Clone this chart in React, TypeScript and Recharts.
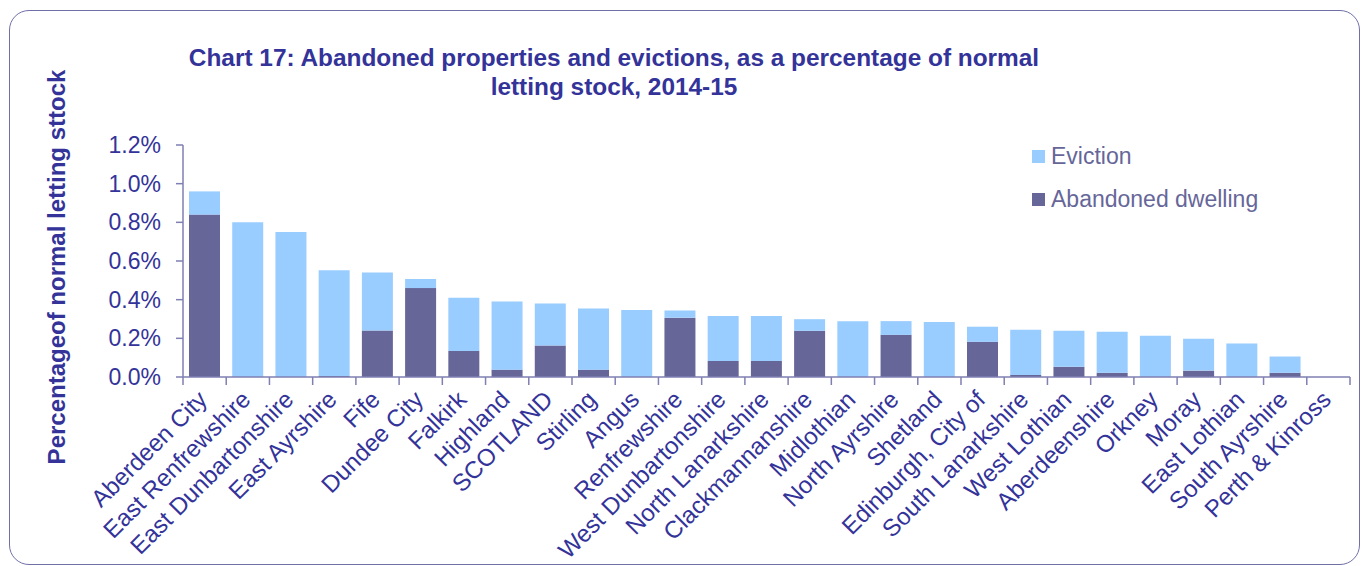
import React from 'react';
import { BarChart, Bar, XAxis, YAxis } from 'recharts';

const categories = [
  'Aberdeen City', 'East Renfrewshire', 'East Dunbartonshire', 'East Ayrshire', 'Fife',
  'Dundee City', 'Falkirk', 'Highland', 'SCOTLAND', 'Stirling', 'Angus', 'Renfrewshire',
  'West Dunbartonshire', 'North Lanarkshire', 'Clackmannanshire', 'Midlothian',
  'North Ayrshire', 'Shetland', 'Edinburgh, City of', 'South Lanarkshire', 'West Lothian',
  'Aberdeenshire', 'Orkney', 'Moray', 'East Lothian', 'South Ayrshire', 'Perth & Kinross',
];

const abandoned = [
  0.84, 0, 0, 0.005, 0.24, 0.46, 0.135, 0.038, 0.163, 0.038, 0, 0.307, 0.083, 0.083,
  0.239, 0, 0.218, 0, 0.182, 0.01, 0.053, 0.022, 0, 0.033, 0, 0.022, 0,
];

const eviction = [
  0.12, 0.80, 0.75, 0.547, 0.30, 0.047, 0.275, 0.352, 0.217, 0.316, 0.346, 0.037, 0.232,
  0.232, 0.06, 0.289, 0.071, 0.284, 0.078, 0.234, 0.186, 0.212, 0.213, 0.165, 0.173, 0.084, 0,
];

const yTicks = [0, 0.2, 0.4, 0.6, 0.8, 1.0, 1.2];

const titleLines = [
  'Chart 17: Abandoned properties and evictions, as a percentage of normal',
  'letting stock, 2014-15',
];
const yLabel = 'Percentageof normal letting sttock';

const seriesNames = { abandoned: 'Abandoned dwelling', eviction: 'Eviction' };

const data = categories.map((name, i) => ({
  name,
  abandoned: abandoned[i],
  eviction: eviction[i],
}));

const FONT = '"Liberation Sans", Arial, sans-serif';
const TEXT = '#333399';
const AXIS = '#7f7fb3';
const EVICTION = '#99CCFF';
const ABANDONED = '#666699';

const legendItems = [
  { name: seriesNames.eviction, color: EVICTION },
  { name: seriesNames.abandoned, color: ABANDONED },
];

const W = 1364;
const H = 566;
const PLOT_LEFT = 183;
const PLOT_RIGHT = 1350;
const STEP = (PLOT_RIGHT - PLOT_LEFT) / categories.length;

const XTick = (props: any) => {
  const { x, y, payload, index } = props;
  const last = index === categories.length - 1;
  const ax = x + 4;
  const ay = y + 24;
  return (
    <g>
      <line x1={x - STEP / 2} x2={x - STEP / 2} y1={y} y2={y + 8} stroke={AXIS} strokeWidth={1.5} />
      {last && (
        <line x1={x + STEP / 2} x2={x + STEP / 2} y1={y} y2={y + 8} stroke={AXIS} strokeWidth={1.5} />
      )}
      <text
        x={ax}
        y={ay}
        transform={`rotate(-45 ${ax} ${ay})`}
        textAnchor="end"
        fill={TEXT}
        fontSize={24}
        fontFamily={FONT}
      >
        {payload.value}
      </text>
    </g>
  );
};

export default function App() {
  return (
    <div style={{ position: 'absolute', left: 0, top: 0, width: W, height: H, background: '#fff' }}>
      <div
        style={{
          position: 'absolute',
          left: 9,
          top: 10,
          width: 1351,
          height: 555,
          border: '1.5px solid #7070a8',
          borderRadius: 20,
          boxSizing: 'border-box',
        }}
      />
      <div
        style={{
          position: 'absolute',
          left: 0,
          width: 1228,
          top: 43,
          textAlign: 'center',
          fontFamily: FONT,
          fontWeight: 'bold',
          fontSize: 24.4,
          lineHeight: '29px',
          color: TEXT,
        }}
      >
        {titleLines.map((t) => (
          <div key={t}>{t}</div>
        ))}
      </div>
      <div
        style={{
          position: 'absolute',
          left: 57,
          top: 267,
          transform: 'translate(-50%, -50%) rotate(-90deg)',
          whiteSpace: 'nowrap',
          fontFamily: FONT,
          fontWeight: 'bold',
          fontSize: 24,
          color: TEXT,
        }}
      >
        {yLabel}
      </div>
      <div style={{ position: 'absolute', left: 0, top: 0 }}>
        <BarChart
          width={W}
          height={H}
          data={data}
          margin={{ top: 145, right: W - PLOT_RIGHT, bottom: 39, left: 0 }}
          style={{ fontFamily: FONT }}
        >
          <XAxis
            dataKey="name"
            interval={0}
            height={150}
            tickSize={0}
            tickMargin={0}
            tickLine={false}
            axisLine={{ stroke: AXIS, strokeWidth: 1.5 }}
            tick={<XTick />}
          />
          <YAxis
            width={PLOT_LEFT}
            domain={[0, 1.2]}
            ticks={yTicks}
            tickFormatter={(v: number) => `${v.toFixed(1)}%`}
            tickSize={7}
            tickMargin={15}
            tick={{ fill: TEXT, fontSize: 23, fontFamily: FONT }}
            tickLine={{ stroke: AXIS, strokeWidth: 1.5 }}
            axisLine={{ stroke: AXIS, strokeWidth: 1.5 }}
          />
          <Bar dataKey="abandoned" name={seriesNames.abandoned} stackId="s" fill={ABANDONED} barSize={31} isAnimationActive={false} />
          <Bar dataKey="eviction" name={seriesNames.eviction} stackId="s" fill={EVICTION} barSize={31} isAnimationActive={false} />
        </BarChart>
      </div>
      <div style={{ position: 'absolute', left: 1032, top: 135, fontFamily: FONT }}>
        {legendItems.map((it) => (
          <div key={it.name} style={{ display: 'flex', alignItems: 'center', height: 43 }}>
            <div style={{ width: 13, height: 13, background: it.color, marginRight: 6 }} />
            <span style={{ fontSize: 23, color: '#666699', lineHeight: '23px' }}>{it.name}</span>
          </div>
        ))}
      </div>
    </div>
  );
}
